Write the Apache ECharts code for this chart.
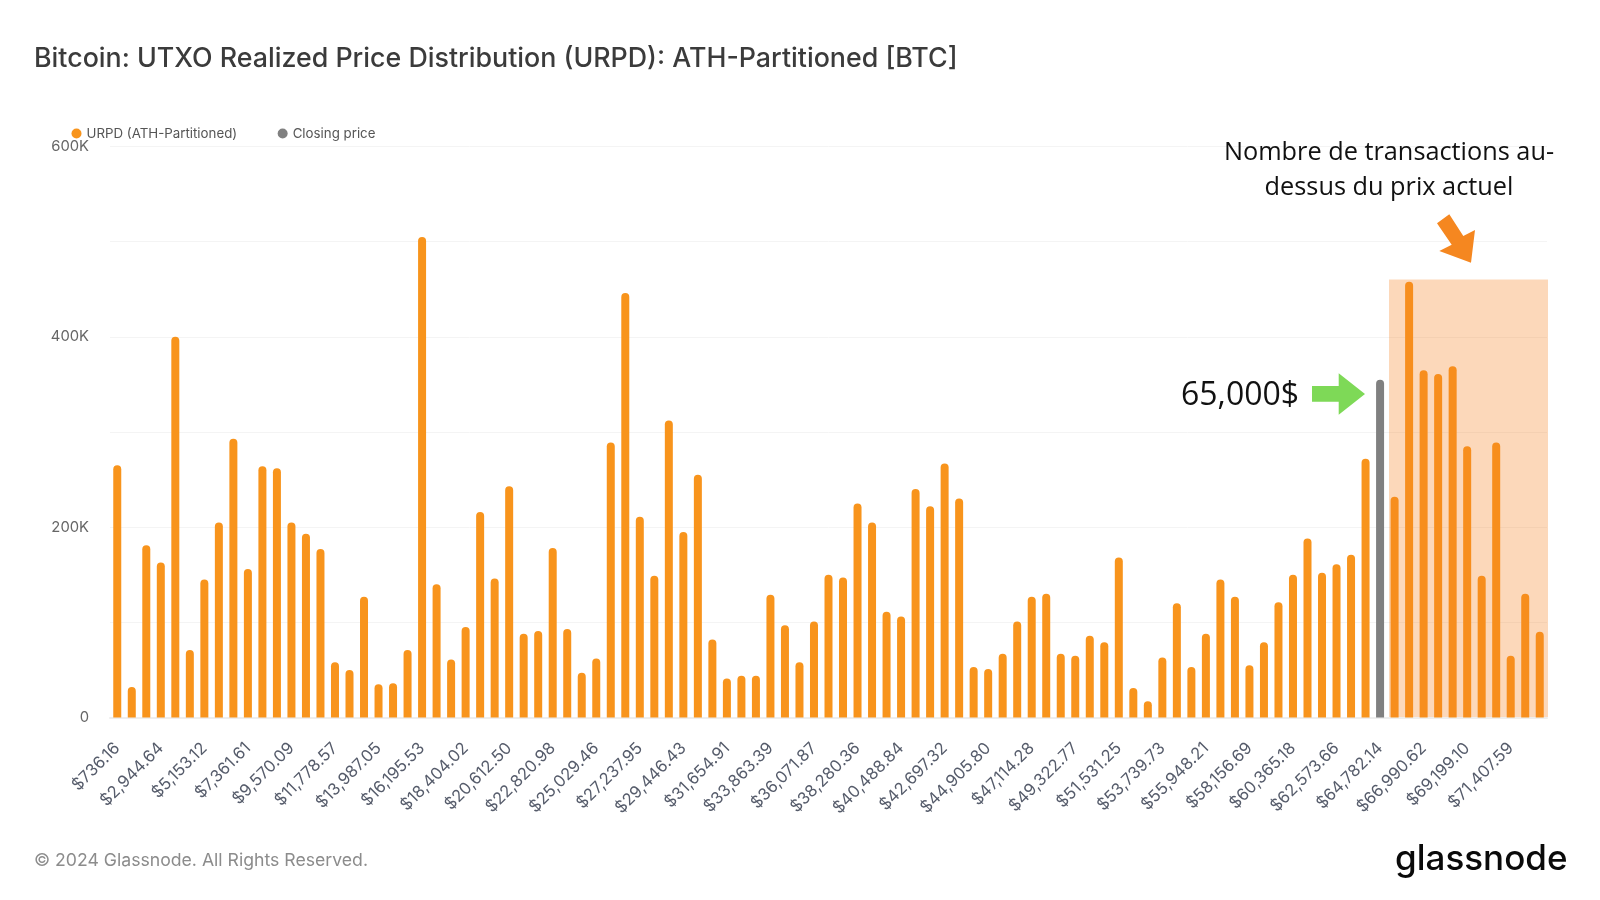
<!DOCTYPE html>
<html><head><meta charset="utf-8">
<style>html,body{margin:0;padding:0;background:#fff}#c{width:1600px;height:900px}</style>
<script src="https://cdn.jsdelivr.net/npm/echarts@6/dist/echarts.min.js"></script>
</head><body><div id="c"></div>
<script>
const priceBins = ["$736.16","$1,472.32","$2,208.48","$2,944.64","$3,680.80","$4,416.96","$5,153.12","$5,889.29","$6,625.45","$7,361.61","$8,097.77","$8,833.93","$9,570.09","$10,306.25","$11,042.41","$11,778.57","$12,514.73","$13,250.89","$13,987.05","$14,723.21","$15,459.37","$16,195.53","$16,931.70","$17,667.86","$18,404.02","$19,140.18","$19,876.34","$20,612.50","$21,348.66","$22,084.82","$22,820.98","$23,557.14","$24,293.30","$25,029.46","$25,765.62","$26,501.78","$27,237.95","$27,974.11","$28,710.27","$29,446.43","$30,182.59","$30,918.75","$31,654.91","$32,391.07","$33,127.23","$33,863.39","$34,599.55","$35,335.71","$36,071.87","$36,808.04","$37,544.20","$38,280.36","$39,016.52","$39,752.68","$40,488.84","$41,225.00","$41,961.16","$42,697.32","$43,433.48","$44,169.64","$44,905.80","$45,641.96","$46,378.12","$47,114.28","$47,850.45","$48,586.61","$49,322.77","$50,058.93","$50,795.09","$51,531.25","$52,267.41","$53,003.57","$53,739.73","$54,475.89","$55,212.05","$55,948.21","$56,684.37","$57,420.54","$58,156.69","$58,892.86","$59,629.02","$60,365.18","$61,101.34","$61,837.50","$62,573.66","$63,309.82","$64,045.98","$64,782.14","$65,518.30","$66,254.46","$66,990.62","$67,726.79","$68,462.95","$69,199.10","$69,935.27","$70,671.43","$71,407.59","$72,143.75","$72,879.91"];
const urpd = [265000,32000,181000,163000,400000,71000,145000,205000,293000,156000,264000,262000,205000,193000,177000,58000,50000,127000,35000,36000,71000,505000,140000,61000,95000,216000,146000,243000,88000,91000,178000,93000,47000,62000,289000,446000,211000,149000,312000,195000,255000,82000,41000,44000,44000,129000,97000,58000,101000,150000,147000,225000,205000,111000,106000,240000,222000,267000,230000,53000,51000,67000,101000,127000,130000,67000,65000,86000,79000,168000,31000,17000,63000,120000,53000,88000,145000,127000,55000,79000,121000,150000,188000,152000,161000,171000,272000,null,232000,458000,365000,361000,369000,285000,149000,289000,65000,130000,90000];
const closingPrice = priceBins.map((b, i) => b === "$64,782.14" ? 355000 : null);
const yTickLabels = ["0","","200K","","400K","","600K"];
const titleText = "Bitcoin: UTXO Realized Price Distribution (URPD): ATH-Partitioned [BTC]";
const footerText = "© 2024 Glassnode. All Rights Reserved.";

const chart = echarts.init(document.getElementById('c'));
chart.setOption({
  animation:false,
  backgroundColor:'#fff',
  title:{text:titleText,left:29,top:40,textStyle:{fontFamily:'Inter',fontSize:26.8,fontWeight:500,color:'#3b3b3b'}},
  legend:{left:66.5,top:122,icon:'circle',itemWidth:10,itemHeight:10,itemGap:40.5,
    textStyle:{fontFamily:'Inter',fontSize:13.3,color:'#555'},
    data:['URPD (ATH-Partitioned)','Closing price']},
  grid:{left:110,right:53,top:146.5,bottom:182.5},
  xAxis:{type:'category',data:priceBins,
    axisLine:{lineStyle:{color:'#eeeeee',width:2}},axisTick:{show:false},
    axisLabel:{interval:2,rotate:45,margin:28,fontFamily:'Inter',fontSize:16.6,color:'#565c6b'}},
  yAxis:{type:'value',min:0,max:600000,interval:100000,
    axisLine:{show:false},axisTick:{show:false},
    splitLine:{lineStyle:{color:'#f4f4f4',width:1}},
    axisLabel:{margin:21,padding:[5,0,0,0],fontFamily:'Inter',fontSize:14.8,color:'#666',
      formatter:(v)=>yTickLabels[Math.round(v/100000)]}},
  series:[
    {name:'URPD (ATH-Partitioned)',type:'bar',data:urpd,barWidth:8,barGap:'-100%',
     itemStyle:{color:'#f8941c',borderRadius:[4,4,0,0]}},
    {name:'Closing price',type:'bar',data:closingPrice,barWidth:8,barGap:'-100%',
     itemStyle:{color:'#808080',borderRadius:[4,4,0,0]}}
  ],
  graphic:[
    {type:'rect',z:50,shape:{x:1389,y:279.5,width:159,height:437.5},style:{fill:'rgba(245,130,32,0.31)'}},
    {type:'polygon',z:51,shape:{points:[[1312,386],[1338.7,386],[1338.7,373.3],[1365,394],[1338.7,414.7],[1338.7,401.7],[1312,401.7]]},style:{fill:'#7ed957'}},
    {type:'polygon',z:51,shape:{points:[[1437,223.3],[1449.3,214.3],[1463.3,236],[1475,230],[1471,262.7],[1439.3,251],[1451.7,244.7]]},style:{fill:'#f58720'}},
    {type:'text',z:52,x:1389,y:153,style:{text:'Nombre de transactions au-',font:'400 25.3px "Open Sans"',fill:'#111',textAlign:'center',textVerticalAlign:'middle'}},
    {type:'text',z:52,x:1389,y:187.5,style:{text:'dessus du prix actuel',font:'400 25.3px "Open Sans"',fill:'#111',textAlign:'center',textVerticalAlign:'middle'}},
    {type:'text',z:52,x:1181,y:396,style:{text:'65,000$',font:'400 32px "Open Sans"',fill:'#111',textAlign:'left',textVerticalAlign:'middle'}},
    {type:'text',z:52,x:34,y:861,style:{text:footerText,font:'400 17.65px Inter',fill:'#8c8c8c',textAlign:'left',textVerticalAlign:'middle'}},
    {type:'text',z:52,x:1395,y:859,style:{text:'glassnode',font:'500 35px Inter',fill:'#0a0a0a',textAlign:'left',textVerticalAlign:'middle'}}
  ]
});
</script></body></html>
